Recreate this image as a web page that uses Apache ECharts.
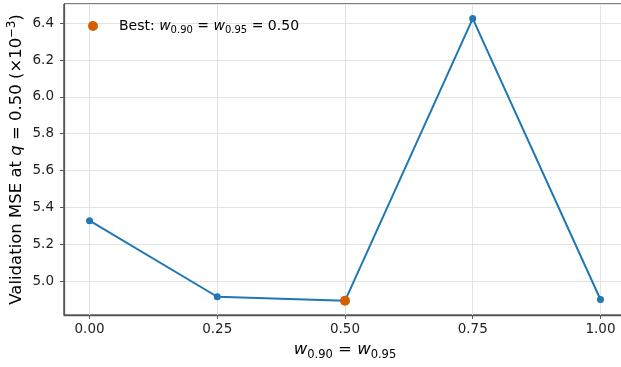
<!DOCTYPE html>
<html>
<head>
<meta charset="utf-8">
<script src="https://cdn.jsdelivr.net/npm/echarts@6/dist/echarts.min.js"></script>
<style>
html,body{margin:0;padding:0;background:#fff;}
#chart{width:621px;height:367px;}
</style>
</head>
<body>
<div id="chart"></div>
<script>
// Data
var weights = [0.00, 0.25, 0.50, 0.75, 1.00];
var mseValues = [5.328, 4.915, 4.893, 6.425, 4.900];
var bestWeight = 0.50;
var bestMse = 4.893;
var bestLabel = 'Best';

var FONT = 'DejaVu Sans';
var chart = echarts.init(document.getElementById('chart'), null, {renderer: 'canvas'});

var lineData = weights.map(function (w, i) { return [w, mseValues[i]]; });

var option = {
  backgroundColor: '#ffffff',
  animation: false,
  textStyle: {fontFamily: FONT},
  grid: {
    left: 64, top: 4, width: 562, height: 311,
    containLabel: false,
    outerBoundsMode: 'none',
    show: true, borderColor: '#000000', borderWidth: 1, backgroundColor: 'transparent'
  },
  legend: {
    data: [bestLabel],
    left: 83, top: 14,
    itemWidth: 42, itemHeight: 10,
    itemGap: 0,
    icon: 'circle',
    formatter: function () {
      return 'Best: {i|w}{s|0.90}{n| = }{i|w}{s|0.95}{n| = 0.50}';
    },
    textStyle: {
      fontFamily: FONT, fontSize: 14, color: '#000',
      rich: {
        n: {fontFamily: FONT, fontSize: 14, color: '#000', lineHeight: 18},
        i: {fontFamily: FONT, fontSize: 14, fontStyle: 'italic', color: '#000', lineHeight: 18},
        s: {fontFamily: FONT, fontSize: 10, color: '#000', lineHeight: 18, verticalAlign: 'bottom', padding: [4, 0, 0, 0]}
      }
    }
  },
  xAxis: {
    type: 'value',
    min: -0.05, max: 1.05,
    minInterval: 0.25, maxInterval: 0.25,
    name: '{i|w}{s|0.90}{n| = }{i|w}{s|0.95}',
    nameLocation: 'middle',
    nameMoveOverlap: false,
    nameGap: 24,
    nameTextStyle: {
      fontFamily: FONT, fontSize: 16.5, color: '#000',
      rich: {
        n: {fontFamily: FONT, fontSize: 16.5, color: '#000', lineHeight: 22},
        i: {fontFamily: FONT, fontSize: 16.5, fontStyle: 'italic', color: '#000', lineHeight: 22},
        s: {fontFamily: FONT, fontSize: 11.5, color: '#000', lineHeight: 22, verticalAlign: 'bottom', padding: [5, 0, 0, 0]}
      }
    },
    axisLine: {show: true, onZero: false, lineStyle: {color: '#555555', width: 1.25}},
    axisTick: {show: true, length: 4, lineStyle: {color: '#555555', width: 1}},
    axisLabel: {
      show: true, margin: 7, fontFamily: FONT, fontSize: 13.5, color: '#222',
      showMinLabel: false, showMaxLabel: false,
      formatter: function (v) { return v.toFixed(2); }
    },
    splitLine: {show: true, lineStyle: {color: '#e3e3e3', width: 1}}
  },
  yAxis: {
    type: 'value',
    min: 4.816, max: 6.504,
    minInterval: 0.2, maxInterval: 0.2,
    name: 'Validation MSE at {i|q} = 0.50 (×10{sup|−3})',
    nameLocation: 'middle',
    nameRotate: 90,
    nameMoveOverlap: false,
    nameGap: 36,
    nameTextStyle: {
      fontFamily: FONT, fontSize: 16.5, color: '#000',
      rich: {
        i: {fontFamily: FONT, fontSize: 16.5, fontStyle: 'italic', color: '#000', lineHeight: 22},
        sup: {fontFamily: FONT, fontSize: 11.5, color: '#000', lineHeight: 22, verticalAlign: 'top', padding: [0, 0, 6, 0]}
      }
    },
    axisLine: {show: true, onZero: false, lineStyle: {color: '#555555', width: 1.25}},
    axisTick: {show: true, length: 4, lineStyle: {color: '#555555', width: 1}},
    axisLabel: {
      show: true, margin: 10, fontFamily: FONT, fontSize: 13.5, color: '#222',
      showMinLabel: false, showMaxLabel: false,
      formatter: function (v) { return v.toFixed(1); }
    },
    splitLine: {show: true, lineStyle: {color: '#e3e3e3', width: 1}}
  },
  series: [
    {
      name: 'MSE',
      type: 'line',
      data: lineData,
      color: '#1f77b4',
      lineStyle: {color: '#1f77b4', width: 2},
      symbol: 'circle',
      symbolSize: 7,
      showSymbol: true,
      itemStyle: {color: '#1f77b4'},
      z: 2
    },
    {
      name: bestLabel,
      type: 'scatter',
      data: [[bestWeight, bestMse]],
      symbol: 'circle',
      symbolSize: 10,
      itemStyle: {color: '#d55e00', opacity: 1},
      z: 3
    }
  ]
};
chart.setOption(option);
</script>
</body>
</html>
